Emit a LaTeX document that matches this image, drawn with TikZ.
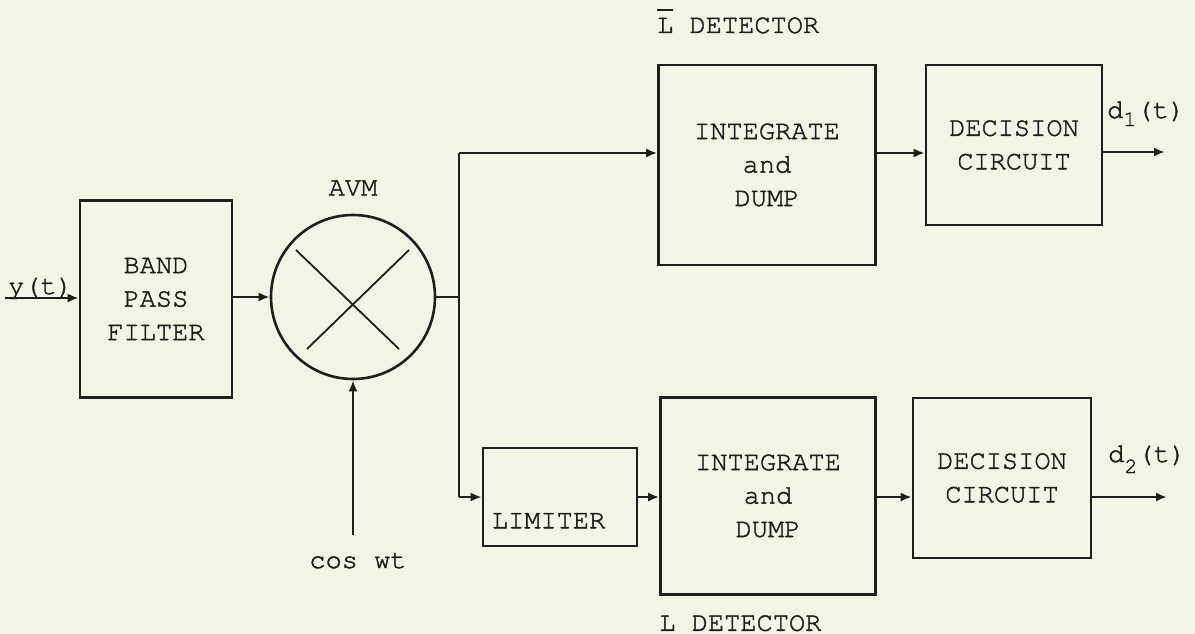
\documentclass[tikz,border=0pt]{standalone}
\usepackage{fontspec}
\setmonofont[FakeBold=1.6]{TeX Gyre Cursor}
\usepackage{tikz}
\usetikzlibrary{calc, positioning, arrows.meta}
\definecolor{paperCream}{HTML}{F4F4E6}
\definecolor{inkBlack}{HTML}{1E1E1E}
\newcommand{\blockfont}{\ttfamily\fontsize{27}{33.5}\selectfont}
\tikzset{
  block/.style = {draw=inkBlack, line width=2.6pt, inner sep=0pt, align=center,
                  font=\blockfont, text=inkBlack},
  mixer/.style = {circle, draw=inkBlack, line width=2.6pt, minimum size=164pt, inner sep=0pt},
  wire/.style  = {draw=inkBlack, line width=2.2pt},
  fl/.style    = {-{Latex[length=11pt, width=9pt]}, draw=inkBlack, line width=2.2pt},
  lbl/.style   = {font=\blockfont, text=inkBlack, inner sep=0pt}
}

\begin{document}
\begin{tikzpicture}[x=1pt, y=-1pt]
  \fill[paperCream] (0,0) rectangle (1195,634);
  \useasboundingbox (0,0) rectangle (1195,634);

  % --- front end: filter and multiplier
  \node[block, minimum width=152pt, minimum height=197pt] (bpf) at (156,299) {BAND\\PASS\\FILTER};
  \node[mixer] (avm) at (353,297) {};
  \node[lbl, above=18pt of avm] (avmlbl) {AVM};
  \draw[wire, line width=1.8pt] ($(avm.center)+(-57,-47)$) -- ($(avm.center)+(46,52)$);
  \draw[wire, line width=1.8pt] ($(avm.center)+(56,-47)$) -- ($(avm.center)+(-46,52)$);

  % --- upper branch
  \node[block, minimum width=217pt, minimum height=200pt] (intA) at (767,165) {INTEGRATE\\and\\DUMP};
  \node[block, minimum width=176pt, minimum height=160pt] (decA) at (1014,145) {DECISION\\CIRCUIT};
  \node[lbl, anchor=base west] (detA) at (657,33)
       {\makebox[0pt][l]{\rule[22pt]{16pt}{2pt}}L DETECTOR};

  % --- lower branch
  \node[block, minimum width=154pt, minimum height=98pt] (lim) at (560,497) {};
  \node[lbl, anchor=base west] (limlbl) at ($(lim.south west)+(10,-19)$) {LIMITER};
  \node[block, minimum width=215pt, minimum height=197pt] (intB) at (768,496) {INTEGRATE\\and\\DUMP};
  \node[block, minimum width=178pt, minimum height=160pt] (decB) at (1002,478) {DECISION\\CIRCUIT};
  \node[lbl, anchor=base west] (detB) at ($(intB.south west)+(0,35)$) {L DETECTOR};

  % --- free ends
  \coordinate (yin) at (5,298);
  \coordinate (cosin) at (353,535);
  \coordinate (split) at (459,297);
  \coordinate (upper) at (459,153);
  \coordinate (lower) at (459,497);
  \coordinate (outA) at (1165,152);
  \coordinate (outB) at (1167,497);
  \node[lbl, anchor=base west] (ylbl) at (8,294) {y(t)};
  \node[lbl, anchor=base] (coslbl) at ($(cosin)+(5,33)$) {cos wt};
  \node[lbl, anchor=base west] (d1lbl) at (1107,118)
       {d\raisebox{-8pt}{\fontsize{22}{22}\selectfont 1}(t)};
  \node[lbl, anchor=base west] (d2lbl) at (1108,462)
       {d\raisebox{-11pt}{\fontsize{22}{22}\selectfont 2}(t)};

  \draw[fl] (yin) -- (yin -| bpf.west);
  \draw[fl] (bpf.east |- avm) -- (avm.west);
  \draw[fl] (cosin) -- (avm.south);
  \draw[wire] (avm.east) -- (split);
  \draw[wire] (upper) -- (lower);
  \draw[fl] (upper) -- (upper -| intA.west);
  \draw[fl] (upper -| intA.east) -- (upper -| decA.west);
  \draw[fl] (outA -| decA.east) -- (outA);
  \draw[fl] (lower) -- (lim.west);
  \draw[fl] (lim.east) -- (lower -| intB.west);
  \draw[fl] (lower -| intB.east) -- (lower -| decB.west);
  \draw[fl] (lower -| decB.east) -- (outB);
\end{tikzpicture}
\end{document}
